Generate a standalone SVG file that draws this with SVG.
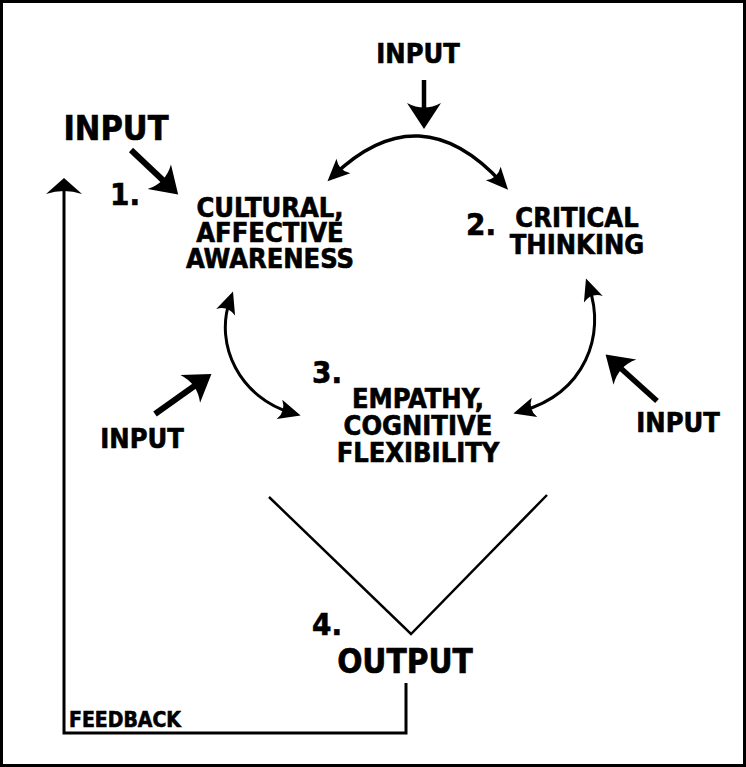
<svg xmlns="http://www.w3.org/2000/svg" width="746" height="767" viewBox="0 0 746 767">
  <style>
    text { font-family: "DejaVu Sans Condensed", "DejaVu Sans", Tahoma, sans-serif; font-weight: bold; fill: #000; stroke: #000; stroke-width: 0.6px; }
    .lbl { font-size: 27px; text-anchor: middle; }
    .num { font-size: 31px; }
    .in { font-size: 27px; text-anchor: middle; }
    .line { fill: none; stroke: #000; }
  </style>
  <defs>
    <!-- notched arrowhead for the input arrows; tip sits 14 units past the line end -->
    <marker id="inHead" markerUnits="userSpaceOnUse" viewBox="-20 -20 40 40" markerWidth="40" markerHeight="40" refX="0" refY="0" orient="auto" overflow="visible">
      <path d="M14,0 L-12,-17 Q-3,0 -12,17 Z" fill="#000"/>
    </marker>
    <!-- smaller notched arrowhead for the cycle arcs -->
    <marker id="arcHead" markerUnits="userSpaceOnUse" viewBox="-20 -20 40 40" markerWidth="40" markerHeight="40" refX="0" refY="0" orient="auto-start-reverse" overflow="visible">
      <path d="M9,0 L-13,-10 Q-6,0 -13,10 Z" fill="#000"/>
    </marker>
    <!-- flat arrowhead for the feedback line -->
    <marker id="fbHead" markerUnits="userSpaceOnUse" viewBox="-20 -20 40 40" markerWidth="40" markerHeight="40" refX="0" refY="0" orient="auto" overflow="visible">
      <path d="M8,0 L-8,-18 Q-2,0 -8,18 Z" fill="#000"/>
    </marker>
  </defs>

  <rect x="1.5" y="1.5" width="743" height="764" fill="#fff" stroke="#000" stroke-width="3"/>

  <g id="connectors">
    <!-- inputs -->
    <line class="line" x1="424" y1="80" x2="424" y2="115" stroke-width="4.5" marker-end="url(#inHead)"/>
    <line class="line" x1="131" y1="150" x2="168" y2="185" stroke-width="6" marker-end="url(#inHead)"/>
    <line class="line" x1="155" y1="414" x2="200" y2="382" stroke-width="6" marker-end="url(#inHead)"/>
    <line class="line" x1="657" y1="401" x2="616" y2="364" stroke-width="5.5" marker-end="url(#inHead)"/>
    <!-- cycle arcs -->
    <path class="line" d="M334,175 Q420,93 502,183" stroke-width="3.5" marker-start="url(#arcHead)" marker-end="url(#arcHead)"/>
    <path class="line" d="M230,300 C214,345 240,398 292,413" stroke-width="3" marker-start="url(#arcHead)" marker-end="url(#arcHead)"/>
    <path class="line" d="M589,287 C606,335 585,393 522,411" stroke-width="3" marker-start="url(#arcHead)" marker-end="url(#arcHead)"/>
    <!-- output funnel -->
    <polyline class="line" points="269,497 411,634 547,495" stroke-width="2.5"/>
    <!-- feedback loop -->
    <polyline class="line" points="406,683 406,733 64,733 64,186" stroke-width="3" marker-end="url(#fbHead)"/>
  </g>

  <g id="input-top"><text class="in" x="418" y="63">INPUT</text></g>
  <g id="input-left"><text class="in" x="116" y="140" style="font-size:34px">INPUT</text></g>
  <g id="input-bottom-left"><text class="in" x="142" y="448">INPUT</text></g>
  <g id="input-right"><text class="in" x="678" y="432">INPUT</text></g>

  <g id="node-1">
    <text class="num" x="110" y="205">1.</text>
    <text class="lbl" x="270" y="217">CULTURAL,</text>
    <text class="lbl" x="270" y="242">AFFECTIVE</text>
    <text class="lbl" x="270" y="268">AWARENESS</text>
  </g>

  <g id="node-2">
    <text class="num" x="466" y="235">2.</text>
    <text class="lbl" x="577" y="227">CRITICAL</text>
    <text class="lbl" x="577" y="254">THINKING</text>
  </g>

  <g id="node-3">
    <text class="num" x="312" y="383">3.</text>
    <text class="lbl" x="418" y="408">EMPATHY,</text>
    <text class="lbl" x="418" y="435">COGNITIVE</text>
    <text class="lbl" x="418" y="462">FLEXIBILITY</text>
  </g>

  <g id="node-4">
    <text class="num" x="312" y="635">4.</text>
    <text class="lbl" x="405" y="673" style="font-size:33px">OUTPUT</text>
  </g>

  <g id="feedback-label"><text x="69" y="727" style="font-size:21px">FEEDBACK</text></g>
</svg>
